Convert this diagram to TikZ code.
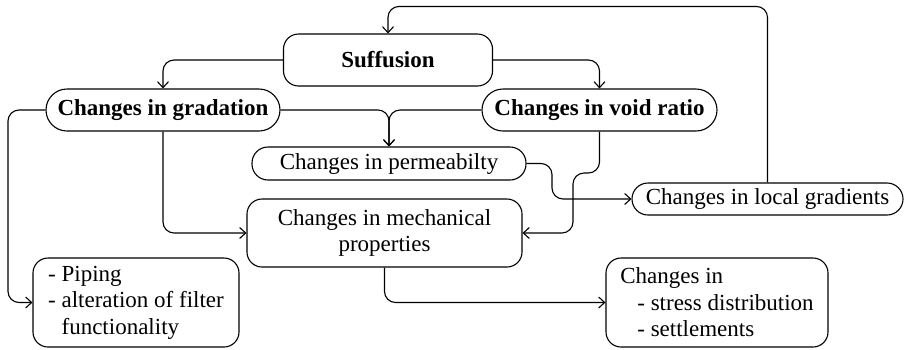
\documentclass[tikz,border=0pt]{standalone}
\usepackage{fontspec}
\setmainfont{Liberation Serif}
\usetikzlibrary{arrows.meta}
\begin{document}
\begin{tikzpicture}[x=1pt,y=-1pt,
  font=\fontsize{23}{26.5}\selectfont,
  box/.style={draw, line width=1.1pt, inner sep=0pt, align=center,
    minimum width=#1},
  pill/.style={box=#1, rounded corners=16pt, minimum height=32pt},
  bigpill/.style={box=#1, rounded corners=21pt, minimum height=42pt},
  conn/.style={draw, line width=1.1pt, rounded corners=11pt,
    -{Straight Barb[length=6pt,width=11pt]}}]
\useasboundingbox (0,0) rectangle (905,349);

% boxes
\node[box=209pt, minimum height=52pt, rounded corners=15pt] (suff) at (388,60) {\textbf{Suffusion}};
\node[bigpill=234pt] (grad) at (163,110) {\textbf{Changes in gradation}};
\node[bigpill=235pt] (void) at (599.5,110) {\textbf{Changes in void ratio}};
\node[pill=274pt, minimum height=33pt] (perm) at (389,163.5) {Changes in permeabilty};
\node[box=275pt, minimum height=68pt, rounded corners=15pt] (mech) at (384.5,233) {Changes in mechanical\\properties};
\node[pill=271pt] (loc) at (767.5,199) {Changes in local gradients};
\node[box=206pt, minimum height=89pt, rounded corners=15pt, align=left] (pip) at (136,302.5)
  {- Piping\\- alteration of filter\\\hphantom{- }functionality};
\node[box=222pt, minimum height=89pt, rounded corners=15pt, align=left] (chg) at (717,302.5)
  {Changes in\\\hspace{17pt}- stress distribution\\\hspace{17pt}- settlements};

% routing points
\coordinate (vj) at (573,173);
\coordinate (pj) at (552,199);
\coordinate (gl) at (8,302.5);

% connectors
\path[conn] (suff.west) -| (grad.north);
\path[conn] (suff.east) -| (void.north);
\path[conn] (grad.east) -| (perm.north);
\path[conn] (void.west) -| (perm.north);
\path[conn] (grad.south) |- (mech.west);
\path[conn] (void.south) |- (vj) |- (mech.east);
\path[conn] (perm.east) -| (pj) -- (loc.west);
\path[conn] (loc.north) -- ++(0,-176) -| (suff.north);
\path[conn] (grad.west) -| (gl) -- (pip.west);
\path[conn] (mech.south) |- (chg.west);
\end{tikzpicture}
\end{document}
